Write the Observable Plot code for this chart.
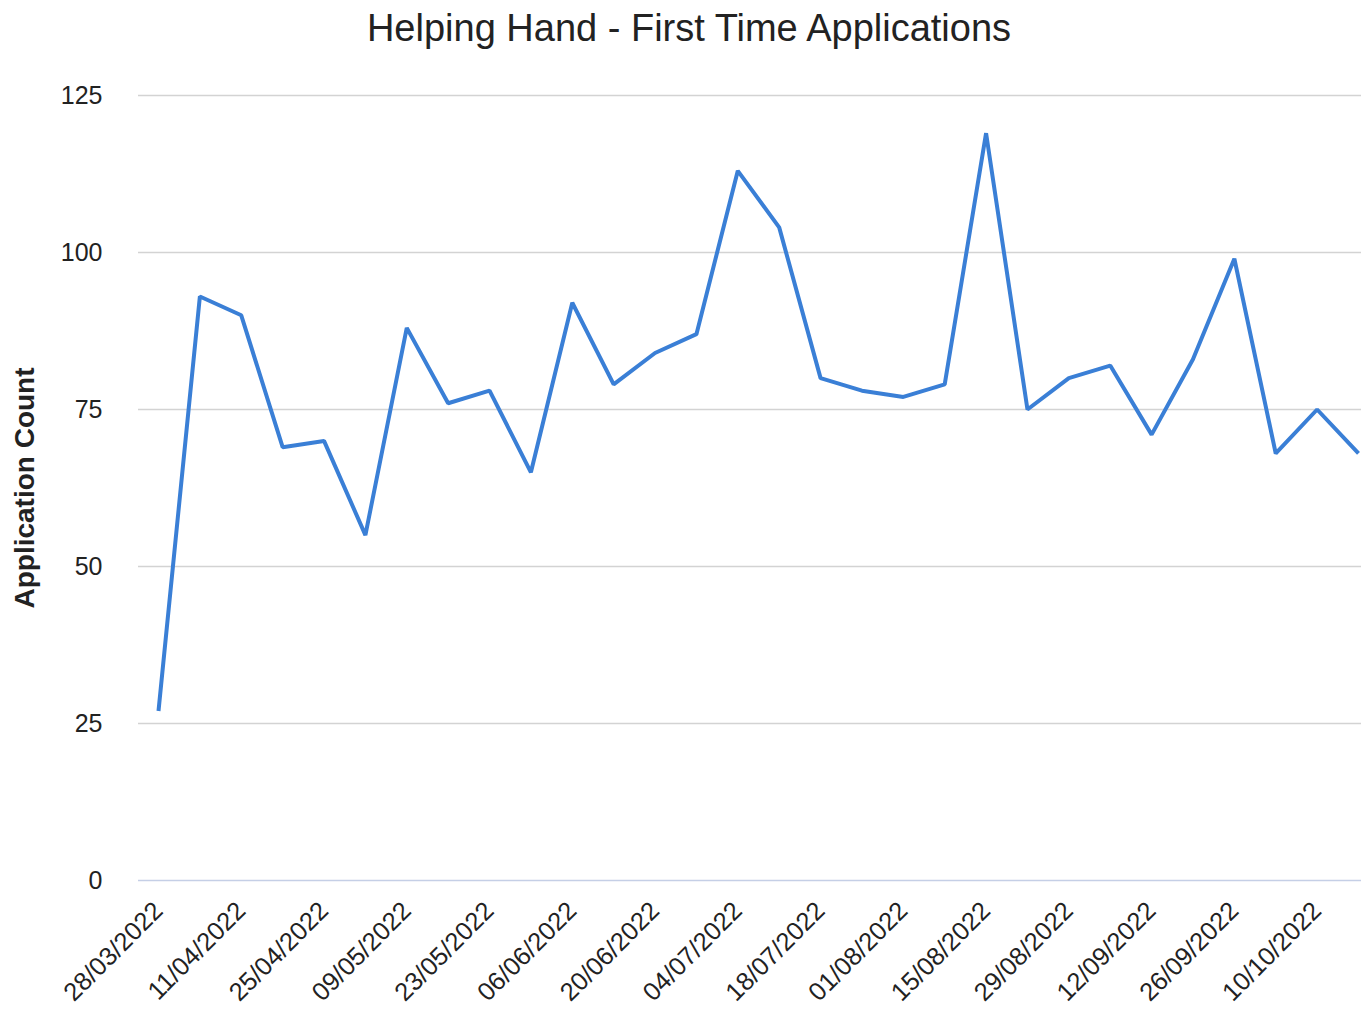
<!DOCTYPE html>
<html>
<head>
<meta charset="utf-8">
<script src="https://cdn.jsdelivr.net/npm/d3@7"></script>
<script src="https://cdn.jsdelivr.net/npm/@observablehq/plot@0.6"></script>
<style>
  html, body { margin: 0; padding: 0; background: #fff; }
  body { width: 1361px; height: 1010px; overflow: hidden; font-family: "Liberation Sans", Arial, sans-serif; }
  #title { height: 56px; line-height: 56px; font-size: 38px; color: #222; text-align: center; padding-left: 17px; box-sizing: border-box; white-space: nowrap; }
</style>
</head>
<body>
<div id="title"></div>
<div id="chart"></div>
<script>
const title = "Helping Hand - First Time Applications";
const yLabel = "Application Count";

const weeks = [
  "28/03/2022","04/04/2022","11/04/2022","18/04/2022","25/04/2022","02/05/2022",
  "09/05/2022","16/05/2022","23/05/2022","30/05/2022","06/06/2022","13/06/2022",
  "20/06/2022","27/06/2022","04/07/2022","11/07/2022","18/07/2022","25/07/2022",
  "01/08/2022","08/08/2022","15/08/2022","22/08/2022","29/08/2022","05/09/2022",
  "12/09/2022","19/09/2022","26/09/2022","03/10/2022","10/10/2022","17/10/2022"
];
const counts = [27, 93, 90, 69, 70, 55, 88, 76, 78, 65, 92, 79, 84, 87, 113, 104, 80, 78, 77, 79, 119, 75, 80, 82, 71, 83, 99, 68, 75, 68];
const xTickLabels = [
  "28/03/2022","11/04/2022","25/04/2022","09/05/2022","23/05/2022","06/06/2022",
  "20/06/2022","04/07/2022","18/07/2022","01/08/2022","15/08/2022","29/08/2022",
  "12/09/2022","26/09/2022","10/10/2022"
];
const yTicks = [0, 25, 50, 75, 100, 125];

const parse = d3.utcParse("%d/%m/%Y");
const fmt = d3.utcFormat("%d/%m/%Y");
const data = weeks.map((w, i) => ({date: parse(w), count: counts[i]}));

document.getElementById("title").textContent = title;

const chart = Plot.plot({
  width: 1361,
  height: 954,
  marginLeft: 138,
  marginRight: 0,
  marginTop: 39,
  marginBottom: 130,
  style: {fontFamily: "'Liberation Sans', Arial, sans-serif", fontSize: "25px", color: "#222", background: "#fff"},
  x: {type: "utc", domain: [parse(weeks[0]), parse(weeks[weeks.length - 1])], range: [158, 1358]},
  y: {domain: [0, 125]},
  marks: [
    Plot.ruleY(yTicks.filter(d => d !== 0), {stroke: "#d3d3d3", strokeWidth: 1.5}),
    Plot.ruleY([0], {stroke: "#c5cfe6", strokeWidth: 1.5}),
    Plot.axisY({ticks: yTicks, tickSize: 0, tickPadding: 36, label: yLabel, labelAnchor: "center", labelArrow: "none", labelOffset: 124, fontSize: 25}),
    Plot.axisX({ticks: xTickLabels.map(parse), tickFormat: fmt, tickSize: 0, tickPadding: 26, tickRotate: -45, label: null, fontSize: 25.5}),
    Plot.line(data, {x: "date", y: "count", stroke: "#3a7fd6", strokeWidth: 4, strokeLinejoin: "miter", strokeLinecap: "butt"})
  ]
});
document.getElementById("chart").appendChild(chart);
// bold axis label
chart.querySelectorAll("g[aria-label='y-axis label'] text").forEach(t => { t.setAttribute("font-weight", "bold"); t.setAttribute("font-size", "28"); });
</script>
</body>
</html>
